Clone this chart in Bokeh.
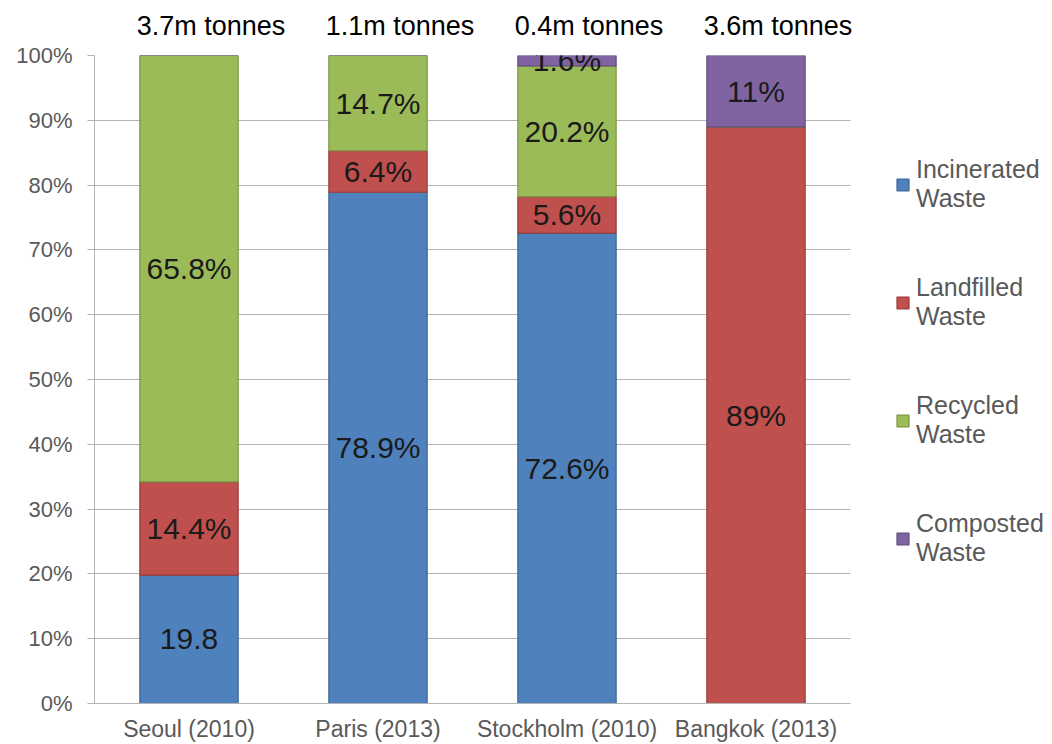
from bokeh.plotting import figure
from bokeh.models import (ColumnDataSource, LabelSet, Legend, LegendItem, LinearAxis, Grid,
                          FixedTicker, SingleIntervalTicker, PrintfTickFormatter, Range1d)
from bokeh.core.properties import value
from bokeh.embed import file_html
from bokeh.resources import INLINE

cities = ["Seoul (2010)", "Paris (2013)", "Stockholm (2010)", "Bangkok (2013)"]
incinerated = [19.8, 78.9, 72.6, 0.0]
landfilled = [14.4, 6.4, 5.6, 89.0]
recycled = [65.8, 14.7, 20.2, 0.0]
composted = [0.0, 0.0, 1.6, 11.0]
totals = ["3.7m tonnes", "1.1m tonnes", "0.4m tonnes", "3.6m tonnes"]

incinerated_labels = ["19.8", "78.9%", "72.6%", ""]
landfilled_labels = ["14.4%", "6.4%", "5.6%", "89%"]
recycled_labels = ["65.8%", "14.7%", "20.2%", ""]
composted_labels = ["", "", "1.6%", "11%"]

series_keys = ["incinerated", "landfilled", "recycled", "composted"]
series_names = ["Incinerated\nWaste", "Landfilled\nWaste", "Recycled\nWaste", "Composted\nWaste"]
fills = ["#4F81BD", "#C0504D", "#9BBB59", "#8064A2"]
edges = ["#3A6595", "#9A3B38", "#7A9443", "#634C82"]

FONT = "Liberation Sans"
GRID = "#B3B3B3"

# layout (pixels)
W, H = 1052, 744
LEFT, TOP, BOTTOM = 94, 55, 39
BARS_W = 756                   # width of the bar area inside the frame
FRAME_W = W - LEFT             # frame runs to the right edge; legend sits inside it

n = len(cities)
positions = list(range(n))
x_start = -0.5
x_end = x_start + n * FRAME_W / BARS_W

source = ColumnDataSource(dict(x=positions, incinerated=incinerated, landfilled=landfilled,
                               recycled=recycled, composted=composted))

p = figure(x_range=Range1d(x_start, x_end), y_range=Range1d(0, 100), width=W, height=H,
           output_backend="svg", toolbar_location=None,
           min_border_left=LEFT, min_border_right=0, min_border_top=TOP, min_border_bottom=BOTTOM)

renderers = p.vbar_stack(series_keys, x="x", width=0.52, source=source,
                         fill_color=fills, line_color=edges, line_width=1.2)

# data labels at segment centres
lab_x, lab_y, lab_t = [], [], []
all_vals = [incinerated, landfilled, recycled, composted]
all_labs = [incinerated_labels, landfilled_labels, recycled_labels, composted_labels]
for i in positions:
    base = 0.0
    for vals, labs in zip(all_vals, all_labs):
        v = vals[i]
        if labs[i]:
            lab_x.append(i)
            lab_y.append(base + v / 2.0)
            lab_t.append(labs[i])
        base += v
lsrc = ColumnDataSource(dict(x=lab_x, y=lab_y, t=lab_t))
p.add_layout(LabelSet(x="x", y="y", text="t", source=lsrc, text_align="center",
                      text_baseline="middle", text_font=value(FONT), text_font_size="30px",
                      text_color="#1A1A1A"))

# totals above bars, as an axis above the frame (shifted slightly right as in the original)
shift = 22.0 * n / BARS_W
p.extra_x_ranges = {"totals": Range1d(x_start - shift, x_end - shift)}
top_axis = LinearAxis(x_range_name="totals", ticker=FixedTicker(ticks=positions),
                      major_label_overrides={i: t for i, t in zip(positions, totals)})
top_axis.axis_line_color = None
top_axis.major_tick_line_color = None
top_axis.minor_tick_line_color = None
top_axis.major_tick_out = 0
top_axis.major_tick_in = 0
top_axis.major_label_standoff = 15
top_axis.major_label_text_font = FONT
top_axis.major_label_text_font_size = "27px"
top_axis.major_label_text_color = "#000000"
p.add_layout(top_axis, "above")

# axes
p.yaxis.ticker = SingleIntervalTicker(interval=10)
p.yaxis.formatter = PrintfTickFormatter(format="%d%%")
p.yaxis.major_label_text_font = FONT
p.yaxis.major_label_text_font_size = "22px"
p.yaxis.major_label_text_color = "#595959"
p.yaxis.axis_line_color = GRID
p.yaxis.major_tick_line_color = GRID
p.yaxis.major_tick_out = 7
p.yaxis.major_tick_in = 0
p.yaxis.minor_tick_line_color = None
p.yaxis.major_label_standoff = 15

bottom_axis = p.below[0]
bottom_axis.ticker = FixedTicker(ticks=positions)
bottom_axis.major_label_overrides = {i: c for i, c in zip(positions, cities)}
bottom_axis.bounds = (x_start, n - 0.5)
bottom_axis.major_label_text_font = FONT
bottom_axis.major_label_text_font_size = "23px"
bottom_axis.major_label_text_color = "#595959"
bottom_axis.axis_line_color = GRID
bottom_axis.major_tick_line_color = None
bottom_axis.minor_tick_line_color = None
bottom_axis.major_tick_out = 0
bottom_axis.major_tick_in = 0
bottom_axis.major_label_standoff = 12

p.xgrid.grid_line_color = None
if "cross_bounds" in Grid.properties():
    p.ygrid.cross_bounds = (x_start, n - 0.5)
    p.ygrid.grid_line_color = GRID
    p.ygrid.grid_line_width = 1
else:
    p.ygrid.grid_line_color = None
    gy = list(range(0, 101, 10))
    p.segment(x0=[x_start] * len(gy), x1=[n - 0.5] * len(gy), y0=gy, y1=gy,
              line_color=GRID, line_width=1, level="underlay")
p.outline_line_color = None
p.background_fill_color = "white"

items = [LegendItem(label=nm, renderers=[r]) for nm, r in zip(series_names, renderers)]
legend = Legend(items=items, location=(895 - LEFT, 136), orientation="vertical",
                glyph_width=15, glyph_height=15, label_standoff=6,
                label_text_font=FONT, label_text_font_size="25px",
                label_text_color="#595959", spacing=60, padding=0, margin=0,
                border_line_color=None, background_fill_alpha=0)
p.add_layout(legend)

open("out.html", "w").write(file_html(p, INLINE))
